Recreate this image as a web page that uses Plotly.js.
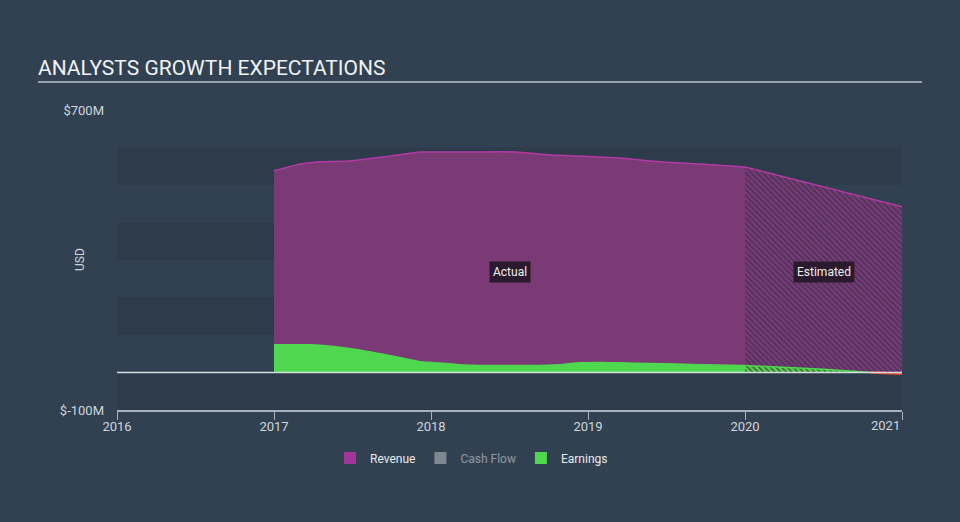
<!DOCTYPE html>
<html>
<head>
<meta charset="utf-8">
<script src="https://cdn.plot.ly/plotly-3.0.1.min.js"></script>
<style>
html,body{margin:0;padding:0;background:#324152;}
#chart{width:960px;height:522px;}
</style>
</head>
<body>
<div id="chart"></div>
<script>
// Revenue (USD millions), actual
const revActualX = [2017.0, 2017.17, 2017.29, 2017.48, 2017.74, 2017.93, 2018.0, 2018.25, 2018.54, 2018.76, 2018.95, 2019.0, 2019.2, 2019.46, 2019.71, 2020.0];
const revActualY = [538, 556, 562, 564, 577, 588, 588, 588, 588, 580, 577, 576, 572, 562, 556, 548];
// Revenue, estimated
const revEstX = [2020.0, 2020.36, 2021.0];
const revEstY = [548, 510, 442];
// Earnings, actual
const earnActualX = [2017.0, 2017.23, 2017.29, 2017.48, 2017.74, 2017.93, 2018.0, 2018.18, 2018.44, 2018.63, 2018.82, 2018.95, 2019.08, 2019.2, 2019.39, 2019.71, 2020.0];
const earnActualY = [74, 74, 73, 64, 45, 29, 27, 21, 18.5, 18.5, 21, 26, 27, 26, 24, 21, 18.5];
// Earnings, estimated
const earnEstX = [2020.0, 2020.5, 2020.8];
const earnEstY = [18.5, 9, 0];
const earnNegX = [2020.8, 2021.0];
const earnNegY = [0, -3];
// Axis ticks
const yTickVals = [700, -100];
const yTickText = ['$700M', '$-100M'];
const xTickVals = [2016, 2017, 2018, 2019, 2020, 2021];
const xTickText = ['2016', '2017', '2018', '2019', '2020', '2021'];
const bandEdges = [-100, 0, 100, 200, 300, 400, 500, 600];
const legendNames = ['Revenue', 'Cash Flow', 'Earnings'];

const REV_FILL = '#7a3a76';
const REV_LINE = '#b23aa3';
const EARN = '#4fd84f';
const legendColors = ['#a0359a', '#cccccc', EARN];

const traces = [
  {x: revActualX, y: revActualY, type: 'scatter', mode: 'lines', showlegend: false,
   line: {color: REV_LINE, width: 1.5, shape: 'spline', smoothing: 0.6},
   fill: 'tozeroy', fillcolor: REV_FILL, hoverinfo: 'skip'},
  {x: revEstX, y: revEstY, type: 'scatter', mode: 'lines', showlegend: false,
   line: {color: REV_LINE, width: 1.5},
   fill: 'tozeroy', fillcolor: REV_FILL,
   fillpattern: {shape: '\\', size: 4, solidity: 0.35, fgcolor: '#3f3352', bgcolor: REV_FILL, fillmode: 'replace'},
   hoverinfo: 'skip'},
  {x: earnActualX, y: earnActualY, type: 'scatter', mode: 'lines', showlegend: false,
   line: {color: EARN, width: 1.5, shape: 'spline', smoothing: 0.6},
   fill: 'tozeroy', fillcolor: EARN, hoverinfo: 'skip'},
  {x: earnEstX, y: earnEstY, type: 'scatter', mode: 'lines', showlegend: false,
   line: {color: EARN, width: 1.5},
   fill: 'tozeroy', fillcolor: EARN,
   fillpattern: {shape: '\\', size: 4, solidity: 0.4, fgcolor: '#4a5a40', bgcolor: EARN, fillmode: 'replace'},
   hoverinfo: 'skip'},
  {x: earnNegX, y: earnNegY, type: 'scatter', mode: 'lines', showlegend: false,
   line: {color: '#e8483a', width: 2.5}, hoverinfo: 'skip'}
];
// legend entries (square swatches)
legendNames.forEach((n, i) => {
  traces.push({x: [null], y: [null], type: 'bar', name: n,
    marker: {color: legendColors[i], line: {width: 0}},
    visible: n === 'Cash Flow' ? 'legendonly' : true, hoverinfo: 'skip'});
});

const shapes = [];
for (let i = 0; i < bandEdges.length - 1; i++) {
  shapes.push({type: 'rect', xref: 'paper', yref: 'y', x0: 0, x1: 1,
    y0: bandEdges[i], y1: bandEdges[i + 1], layer: 'below', line: {width: 0},
    fillcolor: (i % 2 === 0) ? '#2d3b4a' : '#324152'});
}
// zero line
shapes.push({type: 'line', xref: 'paper', yref: 'y', x0: 0, x1: 1, y0: 0, y1: 0,
  line: {color: '#d8dde2', width: 1.5}, layer: 'above'});
// title underline
shapes.push({type: 'line', xref: 'paper', yref: 'paper', x0: (38 - 117) / 785, x1: (922 - 117) / 785,
  y0: (410 - 82) / 300, y1: (410 - 82) / 300, line: {color: '#b8c0c8', width: 1.5}});

const annotations = [
  {x: 2018.5, y: 268, xref: 'x', yref: 'y', text: 'Actual', showarrow: false,
   bgcolor: '#2b1a2d', font: {size: 12, color: '#eeeeee'}, borderpad: 3},
  {x: 2020.5, y: 268, xref: 'x', yref: 'y', text: 'Estimated', showarrow: false,
   bgcolor: '#2b1a2d', font: {size: 12, color: '#eeeeee'}, borderpad: 3},
  {x: (80 - 117) / 785, y: (410 - 260) / 300, xref: 'paper', yref: 'paper', text: 'USD', textangle: -90,
   xanchor: 'center', yanchor: 'middle', showarrow: false, font: {size: 12, color: '#d0d5da'}},
  {x: xTickVals[xTickVals.length - 1], y: (410 - 425) / 300, xref: 'x', yref: 'paper',
   text: xTickText[xTickText.length - 1], xanchor: 'right', yanchor: 'middle', showarrow: false,
   font: {size: 13, color: '#d0d5da'}}
];

const layout = {
  width: 960, height: 522,
  paper_bgcolor: '#324152', plot_bgcolor: 'rgba(0,0,0,0)',
  margin: {l: 117, r: 58, t: 110, b: 112},
  font: {family: 'Roboto, "Open Sans", sans-serif', color: '#d8dde2'},
  title: {text: 'ANALYSTS GROWTH EXPECTATIONS', x: 38 / 960, xanchor: 'left', y: 1 - 68 / 522, yanchor: 'middle',
    font: {size: 21, color: '#f0f2f4', family: 'Roboto, sans-serif'}},
  xaxis: {range: [2016, 2021], tickvals: xTickVals,
    ticktext: xTickText.map((t, i) => i === xTickText.length - 1 ? ' ' : t),
    showgrid: false, zeroline: false, showline: true, linecolor: '#a9b2bc', linewidth: 1.5,
    ticks: 'outside', ticklen: 8, tickcolor: '#a9b2bc', tickwidth: 1,
    ticklabelstandoff: -4,
    tickfont: {size: 13, color: '#d0d5da'}, fixedrange: true},
  yaxis: {range: [-100, 700], tickvals: yTickVals, ticktext: yTickText,
    showgrid: false, zeroline: false, showline: false, ticks: '',
    ticklabelstandoff: 12,
    tickfont: {size: 13, color: '#d0d5da'}, fixedrange: true},
  showlegend: true,
  legend: {orientation: 'h', x: 0.4516, xanchor: 'center', y: (410 - 458) / 300, yanchor: 'middle',
    font: {size: 12, color: '#e6e9ec'}, itemclick: false, itemdoubleclick: false, bgcolor: 'rgba(0,0,0,0)',
    traceorder: 'normal'},
  barmode: 'overlay',
  shapes: shapes,
  annotations: annotations
};

Plotly.newPlot('chart', traces, layout, {displayModeBar: false});
</script>
</body>
</html>
